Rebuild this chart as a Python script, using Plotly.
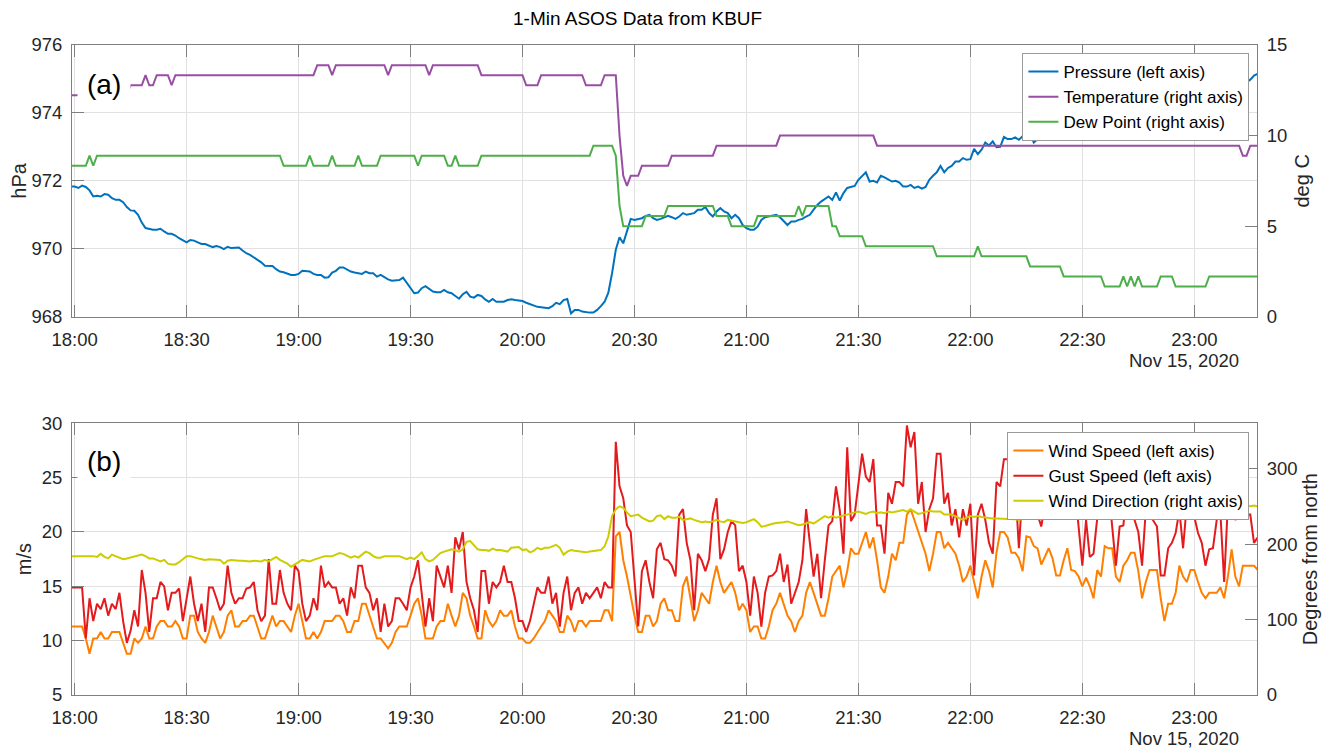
import pandas as pd
import plotly.graph_objects as go
from plotly.subplots import make_subplots

# 1-min ASOS samples, KBUF, starting 17:59 on Nov 15 2020
start_time = "2020-11-15 17:59"

pressure_hpa = [
    971.83, 971.83, 971.79, 971.86, 971.82, 971.72, 971.54, 971.56, 971.54, 971.61,
    971.59, 971.49, 971.44, 971.44, 971.37, 971.23, 971.13, 971.12, 971.00, 970.77,
    970.61, 970.58, 970.56, 970.56, 970.59, 970.51, 970.44, 970.44, 970.39, 970.31,
    970.24, 970.19, 970.26, 970.24, 970.19, 970.14, 970.14, 970.09, 970.05, 970.08,
    970.05, 969.99, 970.06, 970.02, 970.02, 970.04, 969.95, 969.87, 969.82, 969.75,
    969.69, 969.60, 969.50, 969.49, 969.49, 969.40, 969.33, 969.31, 969.28, 969.23,
    969.23, 969.26, 969.35, 969.33, 969.33, 969.26, 969.23, 969.23, 969.15, 969.16,
    969.30, 969.35, 969.45, 969.45, 969.38, 969.33, 969.30, 969.28, 969.26, 969.33,
    969.28, 969.28, 969.18, 969.23, 969.16, 969.10, 969.06, 969.08, 969.08, 969.15,
    969.00, 968.84, 968.69, 968.71, 968.84, 968.90, 968.81, 968.74, 968.72, 968.72,
    968.79, 968.72, 968.69, 968.61, 968.53, 968.66, 968.73, 968.59, 968.56, 968.64,
    968.61, 968.51, 968.44, 968.52, 968.44, 968.44, 968.44, 968.49, 968.51, 968.49,
    968.47, 968.46, 968.41, 968.37, 968.31, 968.29, 968.28, 968.27, 968.25, 968.31,
    968.41, 968.37, 968.49, 968.52, 968.10, 968.20, 968.20, 968.15, 968.13, 968.12,
    968.12, 968.20, 968.31, 968.44, 968.71, 969.28, 969.97, 970.34, 970.16, 970.56,
    970.88, 970.85, 970.87, 970.90, 970.97, 971.00, 970.90, 970.85, 970.88, 970.93,
    970.97, 970.93, 970.88, 970.95, 971.05, 971.00, 971.02, 971.05, 971.15, 971.15,
    971.23, 971.05, 970.95, 971.10, 971.20, 971.10, 971.05, 970.90, 971.00, 970.90,
    970.70, 970.61, 970.56, 970.56, 970.65, 970.85, 970.93, 970.95, 970.97, 971.00,
    970.93, 970.80, 970.70, 970.80, 970.80, 970.85, 970.88, 970.95, 971.00, 971.15,
    971.29, 971.39, 971.47, 971.54, 971.44, 971.66, 971.42, 971.64, 971.79, 971.83,
    971.85, 972.03, 972.13, 972.25, 971.98, 972.00, 971.95, 972.15, 972.10, 972.03,
    971.98, 972.00, 971.95, 971.83, 971.83, 971.88, 971.79, 971.83, 971.77, 971.82,
    972.03, 972.15, 972.25, 972.44, 972.25, 972.38, 972.44, 972.57, 972.57, 972.67,
    972.62, 972.64, 972.94, 972.79, 972.92, 973.13, 973.04, 973.16, 972.99, 973.00,
    973.29, 973.23, 973.23, 973.28, 973.21, 973.31, 973.31, 973.39, 973.13, 973.23,
    973.36, 973.51, 973.59, 973.46, 973.46, 973.53, 973.53, 973.62, 973.75, 973.85,
    973.85, 973.70, 973.85, 973.95, 974.00, 973.95, 974.05, 974.10, 974.05, 974.15,
    974.20, 974.15, 974.25, 974.30, 974.25, 974.30, 974.35, 974.30, 974.40, 974.45,
    974.40, 974.50, 974.45, 974.50, 974.55, 974.50, 974.60, 974.55, 974.60, 974.65,
    974.60, 974.65, 974.70, 974.65, 974.70, 974.75, 974.70, 974.75, 974.80, 974.75,
    974.80, 974.85, 974.80, 974.85, 974.90, 974.90, 974.98, 975.10, 975.15,
]

temp_f = [
    54, 54, 54, 54, 54, 54, 54, 54, 54, 54, 54, 54, 54, 54, 54, 54, 55, 55, 55, 55,
    56, 55, 55, 56, 56, 56, 56, 55, 56, 56, 56, 56, 56, 56, 56, 56, 56, 56, 56, 56,
    56, 56, 56, 56, 56, 56, 56, 56, 56, 56, 56, 56, 56, 56, 56, 56, 56, 56, 56, 56,
    56, 56, 56, 56, 56, 56, 57, 57, 57, 57, 56, 57, 57, 57, 57, 57, 57, 57, 57, 57,
    57, 57, 57, 57, 57, 56, 57, 57, 57, 57, 57, 57, 57, 57, 57, 57, 56, 57, 57, 57,
    57, 57, 57, 57, 57, 57, 57, 57, 57, 57, 56, 56, 56, 56, 56, 56, 56, 56, 56, 56,
    56, 56, 55, 55, 55, 55, 56, 56, 56, 56, 56, 56, 56, 56, 56, 56, 56, 56, 55, 55,
    55, 55, 55, 56, 56, 56, 56, 50, 46, 45, 46, 46, 46, 47, 47, 47, 47, 47, 47, 47,
    47, 48, 48, 48, 48, 48, 48, 48, 48, 48, 48, 48, 48, 49, 49, 49, 49, 49, 49, 49,
    49, 49, 49, 49, 49, 49, 49, 49, 49, 49, 50, 50, 50, 50, 50, 50, 50, 50, 50, 50,
    50, 50, 50, 50, 50, 50, 50, 50, 50, 50, 50, 50, 50, 50, 50, 50, 49, 49, 49, 49,
    49, 49, 49, 49, 49, 49, 49, 49, 49, 49, 49, 49, 49, 49, 49, 49, 49, 49, 49, 49,
    49, 49, 49, 49, 49, 49, 49, 49, 49, 49, 49, 49, 49, 49, 49, 49, 49, 49, 49, 49,
    49, 49, 49, 49, 49, 49, 49, 49, 49, 49, 49, 49, 49, 49, 49, 49, 49, 49, 49, 49,
    49, 49, 49, 49, 49, 49, 49, 49, 49, 49, 49, 49, 49, 49, 49, 49, 49, 49, 49, 49,
    49, 49, 49, 49, 49, 49, 49, 49, 49, 49, 49, 49, 49, 49, 48, 48, 49, 49, 49,
]

dewpt_f = [
    47, 47, 47, 47, 47, 48, 47, 48, 48, 48, 48, 48, 48, 48, 48, 48, 48, 48, 48, 48,
    48, 48, 48, 48, 48, 48, 48, 48, 48, 48, 48, 48, 48, 48, 48, 48, 48, 48, 48, 48,
    48, 48, 48, 48, 48, 48, 48, 48, 48, 48, 48, 48, 48, 48, 48, 48, 48, 47, 47, 47,
    47, 47, 47, 47, 48, 47, 47, 47, 47, 47, 48, 47, 47, 47, 47, 47, 47, 48, 47, 47,
    47, 47, 47, 48, 48, 48, 48, 48, 48, 48, 48, 48, 48, 47, 48, 48, 48, 48, 48, 48,
    48, 47, 47, 48, 47, 47, 47, 47, 47, 47, 48, 48, 48, 48, 48, 48, 48, 48, 48, 48,
    48, 48, 48, 48, 48, 48, 48, 48, 48, 48, 48, 48, 48, 48, 48, 48, 48, 48, 48, 48,
    49, 49, 49, 49, 49, 49, 48, 43, 41, 41, 41, 41, 41, 41, 42, 42, 42, 42, 42, 42,
    43, 43, 43, 43, 43, 43, 43, 43, 43, 43, 43, 43, 43, 42, 42, 42, 42, 41, 41, 41,
    41, 41, 41, 41, 42, 42, 42, 42, 42, 42, 42, 42, 42, 42, 42, 43, 42, 43, 43, 43,
    43, 43, 43, 43, 41, 41, 40, 40, 40, 40, 40, 40, 40, 39, 39, 39, 39, 39, 39, 39,
    39, 39, 39, 39, 39, 39, 39, 39, 39, 39, 39, 39, 38, 38, 38, 38, 38, 38, 38, 38,
    38, 38, 38, 39, 38, 38, 38, 38, 38, 38, 38, 38, 38, 38, 38, 38, 38, 37, 37, 37,
    37, 37, 37, 37, 37, 37, 36, 36, 36, 36, 36, 36, 36, 36, 36, 36, 36, 35, 35, 35,
    35, 35, 36, 35, 36, 35, 36, 35, 35, 35, 35, 35, 36, 36, 36, 36, 35, 35, 35, 35,
    35, 35, 35, 35, 35, 36, 36, 36, 36, 36, 36, 36, 36, 36, 36, 36, 36, 36, 36,
]

wind_speed = [
    11.3, 11.3, 11.3, 11.3, 10.2, 8.8, 10.2, 10.2, 10.8, 10.2,
    10.2, 10.8, 10.8, 10.8, 9.8, 8.8, 8.8, 10.2, 9.8, 10.2,
    11.3, 10.2, 10.2, 11.3, 11.8, 11.8, 11.3, 11.3, 11.8, 11.3,
    10.2, 10.2, 12.3, 12.3, 10.8, 10.2, 9.8, 10.8, 12.3, 11.3,
    10.2, 10.8, 12.3, 12.8, 11.3, 11.3, 11.8, 11.8, 12.3, 12.3,
    11.3, 10.2, 10.2, 11.3, 12.3, 11.3, 11.8, 11.8, 11.3, 10.8,
    12.3, 13.4, 11.8, 10.2, 10.2, 10.8, 10.2, 10.8, 11.8, 11.8,
    11.8, 12.3, 12.3, 11.8, 10.8, 10.8, 11.8, 11.8, 13.4, 13.4,
    12.3, 11.3, 10.2, 10.2, 9.8, 9.3, 9.8, 10.8, 11.3, 11.3,
    11.3, 12.3, 13.4, 13.9, 12.3, 10.2, 10.2, 10.2, 11.3, 11.8,
    11.8, 13.4, 12.3, 11.3, 12.3, 14.4, 13.9, 12.3, 11.3, 10.2,
    10.2, 12.8, 11.8, 11.3, 11.8, 12.8, 12.3, 12.3, 12.8, 11.3,
    10.2, 10.2, 9.8, 9.8, 10.2, 10.8, 11.3, 11.8, 12.8, 12.3,
    11.8, 10.8, 10.8, 12.3, 11.8, 10.8, 11.8, 11.8, 11.3, 11.8,
    11.8, 11.8, 11.8, 12.8, 12.8, 11.8, 19.6, 20.0, 17.4, 15.9,
    13.9, 12.3, 10.8, 10.8, 12.3, 12.3, 11.3, 11.8, 13.4, 13.9,
    12.8, 12.8, 11.8, 11.8, 15.0, 15.9, 13.9, 11.8, 12.8, 14.4,
    13.9, 13.4, 15.4, 16.9, 15.4, 14.4, 14.9, 15.4, 14.4, 12.8,
    13.4, 12.8, 10.8, 11.3, 11.3, 10.2, 10.2, 11.3, 12.8, 13.4,
    14.4, 13.3, 12.3, 11.8, 10.8, 11.8, 12.3, 14.4, 15.4, 14.4,
    13.4, 12.3, 12.3, 13.9, 15.9, 16.4, 16.9, 14.9, 16.4, 18.5,
    18.0, 18.0, 19.0, 20.0, 18.5, 19.5, 17.4, 14.9, 14.4, 15.9,
    18.0, 17.4, 19.0, 19.0, 21.6, 22.1, 21.1, 20.0, 19.0, 18.0,
    16.4, 18.0, 20.0, 20.0, 18.5, 19.0, 18.5, 18.0, 16.9, 15.4,
    15.9, 16.9, 15.4, 13.9, 15.9, 17.4, 16.4, 14.9, 18.1, 20.0,
    20.0, 19.5, 18.1, 18.1, 17.6, 16.4, 19.6, 19.5, 18.7, 18.5,
    17.0, 17.7, 18.5, 17.6, 16.0, 16.0, 17.4, 18.5, 16.5, 16.4,
    15.9, 15.0, 15.8, 15.0, 13.9, 16.5, 15.9, 18.7, 18.5, 18.5,
    15.9, 15.4, 16.9, 17.4, 18.1, 18.1, 16.4, 13.9, 15.4, 16.5,
    16.5, 16.5, 13.9, 11.8, 13.4, 13.4, 14.4, 16.9, 15.9, 15.4,
    16.5, 16.5, 15.4, 14.4, 13.9, 14.4, 14.4, 14.4, 14.9, 13.9,
    15.9, 18.4, 15.9, 15.0, 16.9, 16.9, 16.9, 16.9, 16.5,
]

gust_speed = [
    14.9, 14.9, 14.9, 14.9, 10.2, 13.9, 11.8, 13.4, 12.9, 13.9,
    12.3, 13.4, 12.9, 14.4, 11.8, 9.8, 10.9, 12.8, 11.3, 16.5,
    14.4, 10.8, 13.9, 13.9, 15.4, 15.0, 12.8, 14.4, 14.4, 14.8,
    11.8, 13.9, 15.9, 13.4, 11.8, 13.4, 10.8, 14.9, 14.9, 13.9,
    12.8, 13.4, 16.9, 14.4, 13.4, 13.9, 13.9, 14.8, 14.9, 15.4,
    12.8, 11.8, 12.3, 17.5, 13.4, 13.4, 16.5, 14.4, 13.4, 12.8,
    16.9, 16.4, 13.4, 11.8, 12.3, 13.9, 12.8, 16.9, 14.9, 15.4,
    14.9, 14.9, 13.4, 13.9, 12.3, 14.9, 13.9, 16.9, 16.9, 14.9,
    14.4, 12.8, 13.9, 10.8, 13.4, 11.3, 11.8, 13.9, 13.9, 13.4,
    12.8, 14.9, 15.9, 17.4, 14.4, 11.3, 13.9, 11.8, 16.9, 15.9,
    14.9, 16.9, 14.4, 19.5, 18.4, 20.0, 15.4, 13.9, 12.8, 10.8,
    16.4, 16.4, 13.4, 15.4, 14.9, 15.4, 16.9, 15.4, 15.4, 13.9,
    11.8, 11.8, 10.8, 11.8, 13.4, 14.9, 14.4, 14.4, 15.9, 13.4,
    14.4, 11.3, 14.4, 15.9, 12.8, 14.4, 14.9, 13.4, 14.4, 13.9,
    14.4, 14.9, 13.9, 15.4, 14.9, 14.9, 28.3, 24.2, 23.1, 20.6,
    20.0, 15.9, 11.3, 16.4, 17.4, 15.4, 13.9, 18.4, 19.0, 17.5,
    17.4, 16.9, 15.9, 21.6, 22.1, 19.0, 17.4, 12.8, 18.0, 17.4,
    16.4, 17.5, 21.6, 23.1, 17.5, 18.4, 20.0, 21.0, 20.6, 16.4,
    16.9, 15.4, 12.3, 15.9, 14.4, 11.3, 14.4, 15.9, 16.0, 16.4,
    18.0, 15.4, 17.0, 13.4, 14.4, 15.4, 17.4, 22.1, 19.0, 15.9,
    18.0, 13.9, 17.4, 20.6, 21.0, 24.2, 22.0, 18.0, 27.8, 21.0,
    21.6, 24.2, 27.2, 25.1, 24.6, 26.7, 20.6, 20.6, 18.0, 23.6,
    22.6, 24.6, 24.6, 24.2, 29.8, 27.8, 29.2, 22.6, 24.6, 20.0,
    22.1, 23.1, 27.2, 27.2, 22.6, 23.6, 20.6, 22.1, 19.5, 22.1,
    20.6, 22.6, 16.0, 21.6, 22.6, 21.1, 19.0, 18.0, 24.6, 24.2,
    26.7, 26.7, 26.7, 24.5, 18.5, 24.0, 22.6, 21.6, 23.5, 21.6,
    20.5, 22.6, 22.1, 21.6, 22.6, 21.6, 24.1, 21.6, 21.6, 24.0,
    20.5, 16.9, 21.1, 17.7, 18.0, 21.4, 24.6, 25.1, 24.2, 20.5,
    16.9, 20.5, 20.6, 24.2, 24.6, 21.1, 20.0, 16.9, 22.0, 21.6,
    21.0, 20.5, 16.0, 16.0, 18.5, 19.0, 19.9, 22.0, 18.5, 22.6,
    21.6, 21.4, 19.9, 19.0, 16.9, 18.4, 18.5, 21.1, 21.7, 15.4,
    22.6, 24.0, 21.1, 21.6, 22.6, 21.6, 21.6, 19.0, 19.5,
]

wind_dir = [
    184, 184, 184, 184, 184, 184, 184, 183, 187, 183,
    181, 186, 184, 181, 180, 181, 182, 184, 184, 186,
    184, 181, 181, 179, 177, 179, 174, 173, 173, 176,
    180, 184, 184, 182, 181, 180, 179, 180, 180, 180,
    179, 174, 178, 179, 178, 178, 178, 177, 177, 178,
    178, 177, 179, 177, 180, 183, 179, 177, 174, 170,
    173, 177, 179, 178, 177, 179, 181, 183, 184, 184,
    184, 186, 188, 187, 184, 182, 184, 182, 186, 190,
    188, 184, 182, 182, 184, 184, 184, 184, 184, 182,
    180, 182, 180, 184, 189, 180, 177, 179, 184, 188,
    190, 192, 193, 192, 190, 193, 203, 204, 198, 193,
    192, 192, 191, 194, 192, 192, 191, 190, 195, 196,
    196, 192, 193, 189, 191, 195, 193, 195, 195, 197,
    199, 195, 186, 190, 192, 191, 190, 189, 189, 190,
    191, 191, 192, 197, 210, 237, 246, 250, 248, 242,
    237, 238, 239, 235, 232, 230, 231, 237, 238, 233,
    237, 235, 235, 236, 232, 233, 234, 232, 230, 229,
    230, 229, 230, 232, 230, 229, 232, 231, 230, 229,
    228, 229, 231, 233, 229, 223, 224, 225, 227, 228,
    228, 229, 230, 228, 227, 225, 226, 228, 229, 227,
    230, 234, 237, 235, 237, 235, 237, 238, 239, 240,
    242, 243, 242, 240, 242, 243, 241, 242, 241, 243,
    242, 243, 245, 245, 243, 246, 243, 240, 241, 243,
    244, 243, 243, 243, 239, 239, 239, 237, 234, 232,
    235, 237, 236, 237, 236, 235, 234, 234, 234, 234,
    234, 234, 234, 233, 232, 234, 235, 235, 239, 241,
    246, 243, 240, 242, 242, 240, 243, 244, 246, 242,
    239, 237, 237, 239, 240, 243, 243, 246, 249, 251,
    248, 246, 246, 248, 245, 242, 239, 241, 245, 243,
    240, 239, 239, 239, 241, 243, 246, 248, 246, 245,
    242, 239, 237, 239, 241, 242, 240, 241, 243, 245,
    249, 251, 245, 248, 251, 251, 250, 251, 250,
]

times = pd.date_range(start_time, periods=len(pressure_hpa), freq="min")
temp_c = [(f - 32) * 5 / 9 for f in temp_f]
dewpt_c = [(f - 32) * 5 / 9 for f in dewpt_f]

FONT = "Liberation Sans, Arial, Helvetica, sans-serif"
TXT = "#262626"
FRAME = "#7f7f7f"
GRID = "#e1e1e1"

fig = make_subplots(rows=2, cols=1, specs=[[{"secondary_y": True}], [{"secondary_y": True}]])

fig.add_trace(go.Scatter(x=times, y=pressure_hpa, mode="lines", name="Pressure (left axis)",
                         line=dict(color="#0072BD", width=2)), row=1, col=1, secondary_y=False)
fig.add_trace(go.Scatter(x=times, y=temp_c, mode="lines", name="Temperature (right axis)",
                         line=dict(color="#984EA3", width=2)), row=1, col=1, secondary_y=True)
fig.add_trace(go.Scatter(x=times, y=dewpt_c, mode="lines", name="Dew Point (right axis)",
                         line=dict(color="#4DAF4A", width=2)), row=1, col=1, secondary_y=True)

fig.add_trace(go.Scatter(x=times, y=wind_speed, mode="lines", name="Wind Speed (left axis)",
                         line=dict(color="#FF7F00", width=2), legend="legend2"),
              row=2, col=1, secondary_y=False)
fig.add_trace(go.Scatter(x=times, y=gust_speed, mode="lines", name="Gust Speed (left axis)",
                         line=dict(color="#E41A1C", width=2), legend="legend2"),
              row=2, col=1, secondary_y=False)
fig.add_trace(go.Scatter(x=times, y=wind_dir, mode="lines", name="Wind Direction (right axis)",
                         line=dict(color="#CCCC00", width=2), legend="legend2"),
              row=2, col=1, secondary_y=True)

xrange = ["2020-11-15 17:59:18", "2020-11-15 23:16:48"]
xticks = pd.date_range("2020-11-15 18:00", "2020-11-15 23:00", freq="30min")
tickfont = dict(family=FONT, size=18.5, color=TXT)

common_x = dict(type="date", range=xrange, tickvals=xticks, tickformat="%H:%M", domain=[0, 1],
                showgrid=True, gridcolor=GRID, gridwidth=1, ticks="inside", ticklen=12,
                tickcolor=FRAME, showline=True, linecolor=FRAME, linewidth=1, mirror="ticks",
                tickfont=tickfont, ticklabelstandoff=6, zeroline=False, automargin=False)
fig.update_xaxes(**common_x)

left_y = dict(showgrid=True, gridcolor=GRID, ticks="inside", ticklen=12, tickcolor=FRAME,
              showline=True, linecolor=FRAME, linewidth=1, mirror=True, tickfont=tickfont,
              zeroline=False, ticklabelstandoff=5, automargin=False,
              title_font=dict(family=FONT, size=20, color=TXT))
right_y = dict(showgrid=False, ticks="inside", ticklen=12, tickcolor=FRAME,
               showline=True, linecolor=FRAME, linewidth=1, tickfont=tickfont,
               zeroline=False, ticklabelstandoff=5, automargin=False,
               title_font=dict(family=FONT, size=20, color=TXT))

# the page adds an 8px body margin, so the figure is 8px smaller on each side
fig.update_layout(
    width=1328, height=743,
    margin=dict(l=64, r=79, t=37, b=56),
    paper_bgcolor="white", plot_bgcolor="white",
    font=dict(family=FONT, color=TXT),
    yaxis=dict(domain=[0.582, 1.0], range=[968, 976], dtick=2, title_text="hPa",
               title_standoff=6, **left_y),
    yaxis2=dict(range=[0, 15], dtick=5, title_text="deg C", title_standoff=8, **right_y),
    yaxis3=dict(domain=[0.0, 0.418], range=[5, 30], dtick=5, title_text="m/s",
                title_standoff=4, **left_y),
    yaxis4=dict(range=[0, 360], tickvals=[0, 100, 200, 300], title_text="Degrees from north",
                title_standoff=6, **right_y),
    legend=dict(x=0.9936, y=0.9877, xanchor="right", yanchor="top", bgcolor="white",
                bordercolor="#9a9a9a", borderwidth=1, font=dict(family=FONT, size=17, color="#000")),
    legend2=dict(x=0.9936, y=0.4046, xanchor="right", yanchor="top", bgcolor="white",
                 bordercolor="#9a9a9a", borderwidth=1, font=dict(family=FONT, size=17, color="#000")),
    showlegend=True,
)

annotations = [
    dict(text="1-Min ASOS Data from KBUF", x=0.4775, y=1.0405, xref="paper", yref="paper",
         xanchor="center", yanchor="middle", showarrow=False,
         font=dict(family=FONT, size=19, color="#000")),
    dict(text="(a)", x=0.0042, y=0.9395, xref="paper", yref="paper", xanchor="left",
         yanchor="middle", showarrow=False, bgcolor="white", borderpad=9,
         font=dict(family=FONT, size=28, color="#000")),
    dict(text="(b)", x=0.0042, y=0.3594, xref="paper", yref="paper", xanchor="left",
         yanchor="middle", showarrow=False, bgcolor="white", borderpad=9,
         font=dict(family=FONT, size=28, color="#000")),
    dict(text="Nov 15, 2020", x=0.9862, y=0.5148, xref="paper", yref="paper",
         xanchor="right", yanchor="middle", showarrow=False, font=tickfont),
    dict(text="Nov 15, 2020", x=0.9862, y=-0.0672, xref="paper", yref="paper",
         xanchor="right", yanchor="middle", showarrow=False, font=tickfont),
]
fig.update_layout(annotations=annotations)

fig.write_html("out.html")
